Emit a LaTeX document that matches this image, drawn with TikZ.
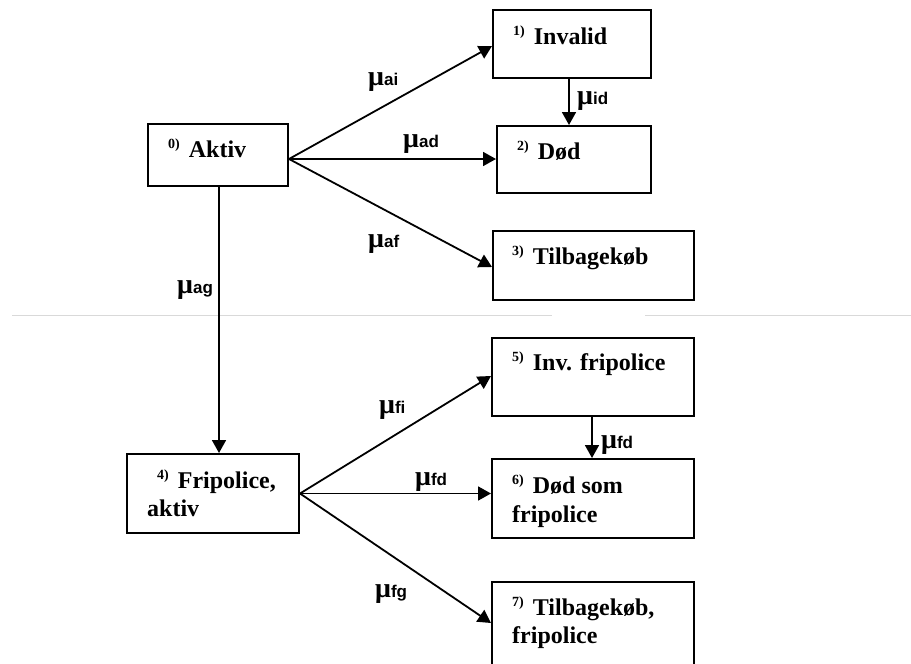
\documentclass[tikz,border=0pt]{standalone}
\usepackage{fontspec}
\setmainfont{Liberation Serif}
\setsansfont{Liberation Sans}
\usetikzlibrary{arrows.meta}
\newcommand{\st}[1]{{\fontsize{14}{14}\selectfont\raisebox{9pt}{#1)}}\hspace{9pt}}
\newcommand{\rate}[1]{{\fontsize{28}{28}\selectfont μ}{\sffamily\fontsize{17}{17}\selectfont #1}}
\tikzset{
  statebox/.style={draw, line width=2pt, inner sep=0pt, anchor=north west},
  boxtext/.style={inner sep=0pt, anchor=base west, font=\bfseries\fontsize{24}{24}\selectfont},
  ratelabel/.style={inner sep=0pt, anchor=base west, font=\bfseries},
  arr/.style={line width=1.8pt, -{Triangle[length=13pt,width=14pt]}},
  faint/.style={draw=gray!30, line width=0.8pt}
}
\begin{document}
\begin{tikzpicture}[x=1pt,y=-1pt]
\clip (0,0) rectangle (911,664);
\fill[white] (0,0) rectangle (911,664);
% faint scan line
\draw[faint] (12,315) -- (552,315);
\draw[faint] (645,315) -- (911,315);
% boxes
\node[statebox, minimum width=140pt, minimum height=62pt] (b0) at (147,123) {};
\node[statebox, minimum width=158pt, minimum height=68pt] (b1) at (492,9) {};
\node[statebox, minimum width=154pt, minimum height=67pt] (b2) at (496,125) {};
\node[statebox, minimum width=201pt, minimum height=69pt] (b3) at (492,230) {};
\node[statebox, minimum width=172pt, minimum height=79pt] (b4) at (126,453) {};
\node[statebox, minimum width=202pt, minimum height=78pt] (b5) at (491,337) {};
\node[statebox, minimum width=202pt, minimum height=79pt] (b6) at (491,458) {};
\node[statebox, minimum width=202pt, minimum height=100pt] (b7) at (491,581) {};
% texts
\node[boxtext] (t0) at (168,157) {\st{0}Aktiv};
\node[boxtext] (t1) at (513,44) {\st{1}Invalid};
\node[boxtext] (t2) at (517,159) {\st{2}Død};
\node[boxtext] (t3) at (512,264) {\st{3}Tilbagekøb};
\node[boxtext] (t4a) at (157,488) {\st{4}Fripolice,};
\node[boxtext] (t4b) at (147,516) {aktiv};
\node[boxtext] (t5) at (512,370) {\st{5}Inv. fripolice};
\node[boxtext] (t6a) at (512,493) {\st{6}Død som};
\node[boxtext] (t6b) at (512,522) {fripolice};
\node[boxtext] (t7a) at (512,615) {\st{7}Tilbagekøb,};
\node[boxtext] (t7b) at (512,643) {fripolice};
% connectors
\draw[arr] ([yshift=-4pt]b0.east) -- ([yshift=-2pt]b1.west);
\draw[arr] ([yshift=-4pt]b0.east) -- ([yshift=-4pt]b0.east -| b2.west);
\draw[arr] ([yshift=-4pt]b0.east) -- ([yshift=-1.5pt]b3.west);
\draw[arr] ([xshift=-3pt]b1.south) -- ([xshift=-3pt]b1.south |- b2.north);
\draw[arr] ([xshift=1pt]b0.south) -- ([xshift=1pt]b0.south |- b4.north);
\draw[arr] (b4.east) -- ([yshift=1pt]b5.west);
\draw[arr] (b4.east) -- (b4.east -| b6.west);
\draw[arr] (b4.east) -- ([yshift=-42pt]b7.north west);
\draw[arr] ([xshift=-1pt]b5.south) -- ([xshift=-1pt]b5.south |- b6.north);
% rate labels
\node[ratelabel] (rai) at (368,85) {\rate{ai}};
\node[ratelabel] (rad) at (403,147) {\rate{ad}};
\node[ratelabel] (raf) at (368,247) {\rate{af}};
\node[ratelabel] (rag) at (177,293) {\rate{ag}};
\node[ratelabel] (rid) at (577,104) {\rate{id}};
\node[ratelabel] (rfi) at (379,413) {\rate{fi}};
\node[ratelabel] (rfd) at (415,485) {\rate{fd}};
\node[ratelabel] (rfd2) at (601,448) {\rate{fd}};
\node[ratelabel] (rfg) at (375,597) {\rate{fg}};
\end{tikzpicture}
\end{document}
